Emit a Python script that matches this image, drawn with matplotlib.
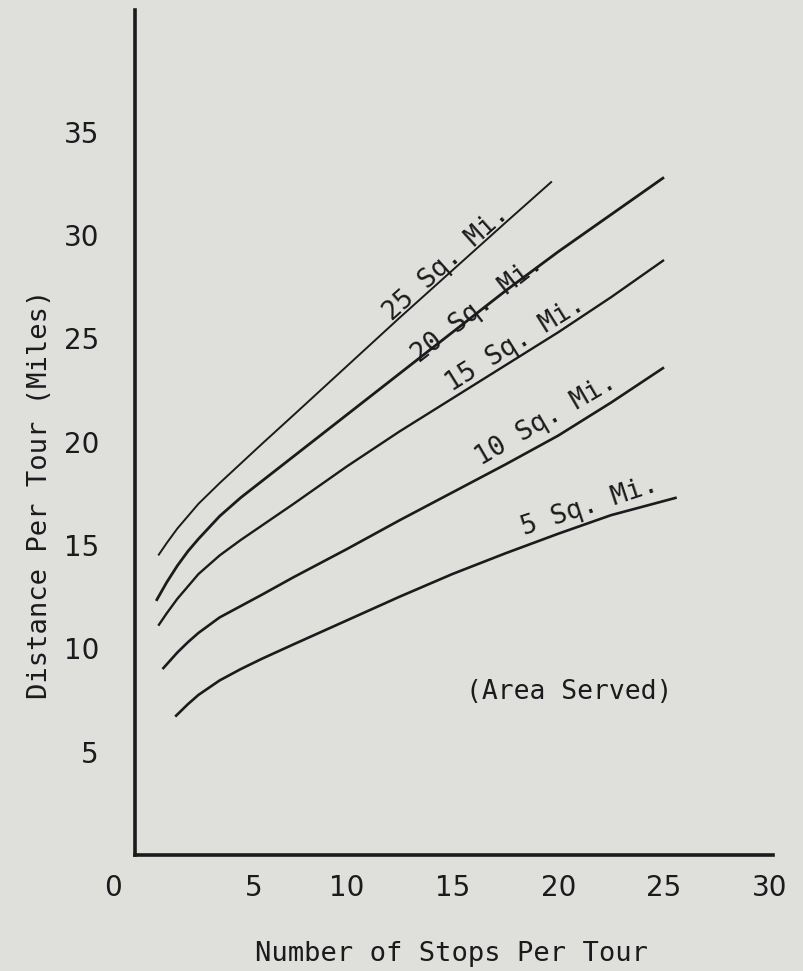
import numpy as np
import matplotlib
matplotlib.use("Agg")
import matplotlib.pyplot as plt
import matplotlib.transforms as mtransforms

# Distance per delivery tour vs. number of stops, for several service areas
areas = ["25 Sq. Mi.", "20 Sq. Mi.", "15 Sq. Mi.", "10 Sq. Mi.", "5 Sq. Mi."]

stops_25 = [1.1, 1.5, 2.0, 2.5, 3.0, 4.0, 5.0, 6.0, 7.5, 10.0, 12.5, 15.0, 17.5, 19.7]
dist_25 = [14.5, 15.1, 15.8, 16.4, 17.0, 18.0, 18.95, 19.9, 21.3, 23.65, 26.0, 28.3, 30.6, 32.6]

stops_20 = [1.0, 1.5, 2.0, 2.5, 3.0, 4.0, 5.0, 6.0, 7.5, 10.0, 12.5, 15.0, 17.5, 20.0, 22.5, 25.0]
dist_20 = [12.3, 13.2, 14.0, 14.7, 15.3, 16.4, 17.3, 18.1, 19.3, 21.3, 23.3, 25.3, 27.3, 29.2, 31.0, 32.8]

stops_15 = [1.1, 1.5, 2.0, 2.5, 3.0, 4.0, 5.0, 6.0, 7.5, 10.0, 12.5, 15.0, 17.5, 20.0, 22.5, 25.0]
dist_15 = [11.1, 11.7, 12.4, 13.0, 13.6, 14.5, 15.25, 15.95, 17.0, 18.8, 20.5, 22.1, 23.7, 25.3, 27.0, 28.8]

stops_10 = [1.3, 2.0, 2.5, 3.0, 4.0, 5.0, 6.0, 7.5, 10.0, 12.5, 15.0, 17.5, 20.0, 22.5, 25.0]
dist_10 = [9.0, 9.8, 10.3, 10.75, 11.5, 12.05, 12.6, 13.45, 14.8, 16.2, 17.55, 18.9, 20.3, 21.9, 23.6]

stops_5 = [1.9, 2.5, 3.0, 4.0, 5.0, 6.0, 7.5, 10.0, 12.5, 15.0, 17.5, 20.0, 22.5, 25.6]
dist_5 = [6.7, 7.3, 7.75, 8.45, 9.0, 9.5, 10.2, 11.35, 12.5, 13.6, 14.6, 15.55, 16.45, 17.3]

x_ticks = [0, 5, 10, 15, 20, 25, 30]
y_ticks = [5, 10, 15, 20, 25, 30, 35]

series = [
    (stops_25, dist_25),
    (stops_20, dist_20),
    (stops_15, dist_15),
    (stops_10, dist_10),
    (stops_5, dist_5),
]
# label placement: centre x along the curve, perpendicular offset (pt), line width
label_x = [15.0, 16.3, 18.3, 19.9, 21.7]
label_off = [2.0, -3.0, 4.0, 9.0, 6.0]
line_w = [1.4, 2.0, 1.7, 1.9, 1.9]

BG = "#dfe0dc"
INK = "#1b1a1c"
MONO = "DejaVu Sans Mono"

W, H, DPI = 804, 971, 100
fig = plt.figure(figsize=(W / DPI, H / DPI), dpi=DPI, facecolor=BG)

x0_px, x1_px = 135, 773
y0_px, y1_px = 855, 10
ax = fig.add_axes([x0_px / W, (H - y0_px) / H, (x1_px - x0_px) / W, (y0_px - y1_px) / H])
ax.set_facecolor(BG)
ax.set_xlim(0, 30.15)
ax.set_ylim(0, 40.9)

for s in ["top", "right"]:
    ax.spines[s].set_visible(False)
for s in ["left", "bottom"]:
    ax.spines[s].set_linewidth(2.6)
    ax.spines[s].set_color(INK)

ax.set_xticks(x_ticks)
ax.set_yticks(y_ticks)
ax.set_xticklabels([str(v) for v in x_ticks])
ax.set_yticklabels([str(v) for v in y_ticks])
ax.tick_params(axis="both", length=0, labelsize=20, labelcolor=INK)
ax.tick_params(axis="x", pad=14)
ax.tick_params(axis="y", pad=26)

# nudge the first two x labels to where they sit on the typed sheet
shifts = {0: -22, 1: 13}
for i, lab in enumerate(ax.get_xticklabels()):
    if i in shifts:
        off = mtransforms.ScaledTranslation(shifts[i] / DPI, 0, fig.dpi_scale_trans)
        lab.set_transform(lab.get_transform() + off)

for (xs, ys), lw in zip(series, line_w):
    ax.plot(xs, ys, color=INK, lw=lw, solid_capstyle="butt", solid_joinstyle="round")

# curve labels, rotated to follow each line
for (xs, ys), name, xc, off in zip(series, areas, label_x, label_off):
    xs_a, ys_a = np.asarray(xs), np.asarray(ys)
    yc = np.interp(xc, xs_a, ys_a)
    p1 = ax.transData.transform((xc - 1.5, np.interp(xc - 1.5, xs_a, ys_a)))
    p2 = ax.transData.transform((xc + 1.5, np.interp(xc + 1.5, xs_a, ys_a)))
    ang = np.degrees(np.arctan2(p2[1] - p1[1], p2[0] - p1[0]))
    nx, ny = -np.sin(np.radians(ang)), np.cos(np.radians(ang))
    ax.annotate(name, xy=(xc, yc), xytext=(nx * off, ny * off),
                textcoords="offset points", rotation=ang,
                rotation_mode="anchor", ha="center", va="baseline",
                fontsize=19, family=MONO, color=INK)

ax.text(20.5, 7.9, "(Area Served)", ha="center", va="center",
        fontsize=19, family=MONO, color=INK)

fig.text(452 / W, 1 - 954 / H, "Number of Stops Per Tour", ha="center",
         va="center", fontsize=19.5, family=MONO, color=INK)
fig.text(40 / W, 1 - 494 / H, "Distance Per Tour (Miles)", ha="center",
         va="center", rotation=90, fontsize=19.5, family=MONO, color=INK)

fig.savefig("out.png", dpi=DPI, facecolor=BG)
